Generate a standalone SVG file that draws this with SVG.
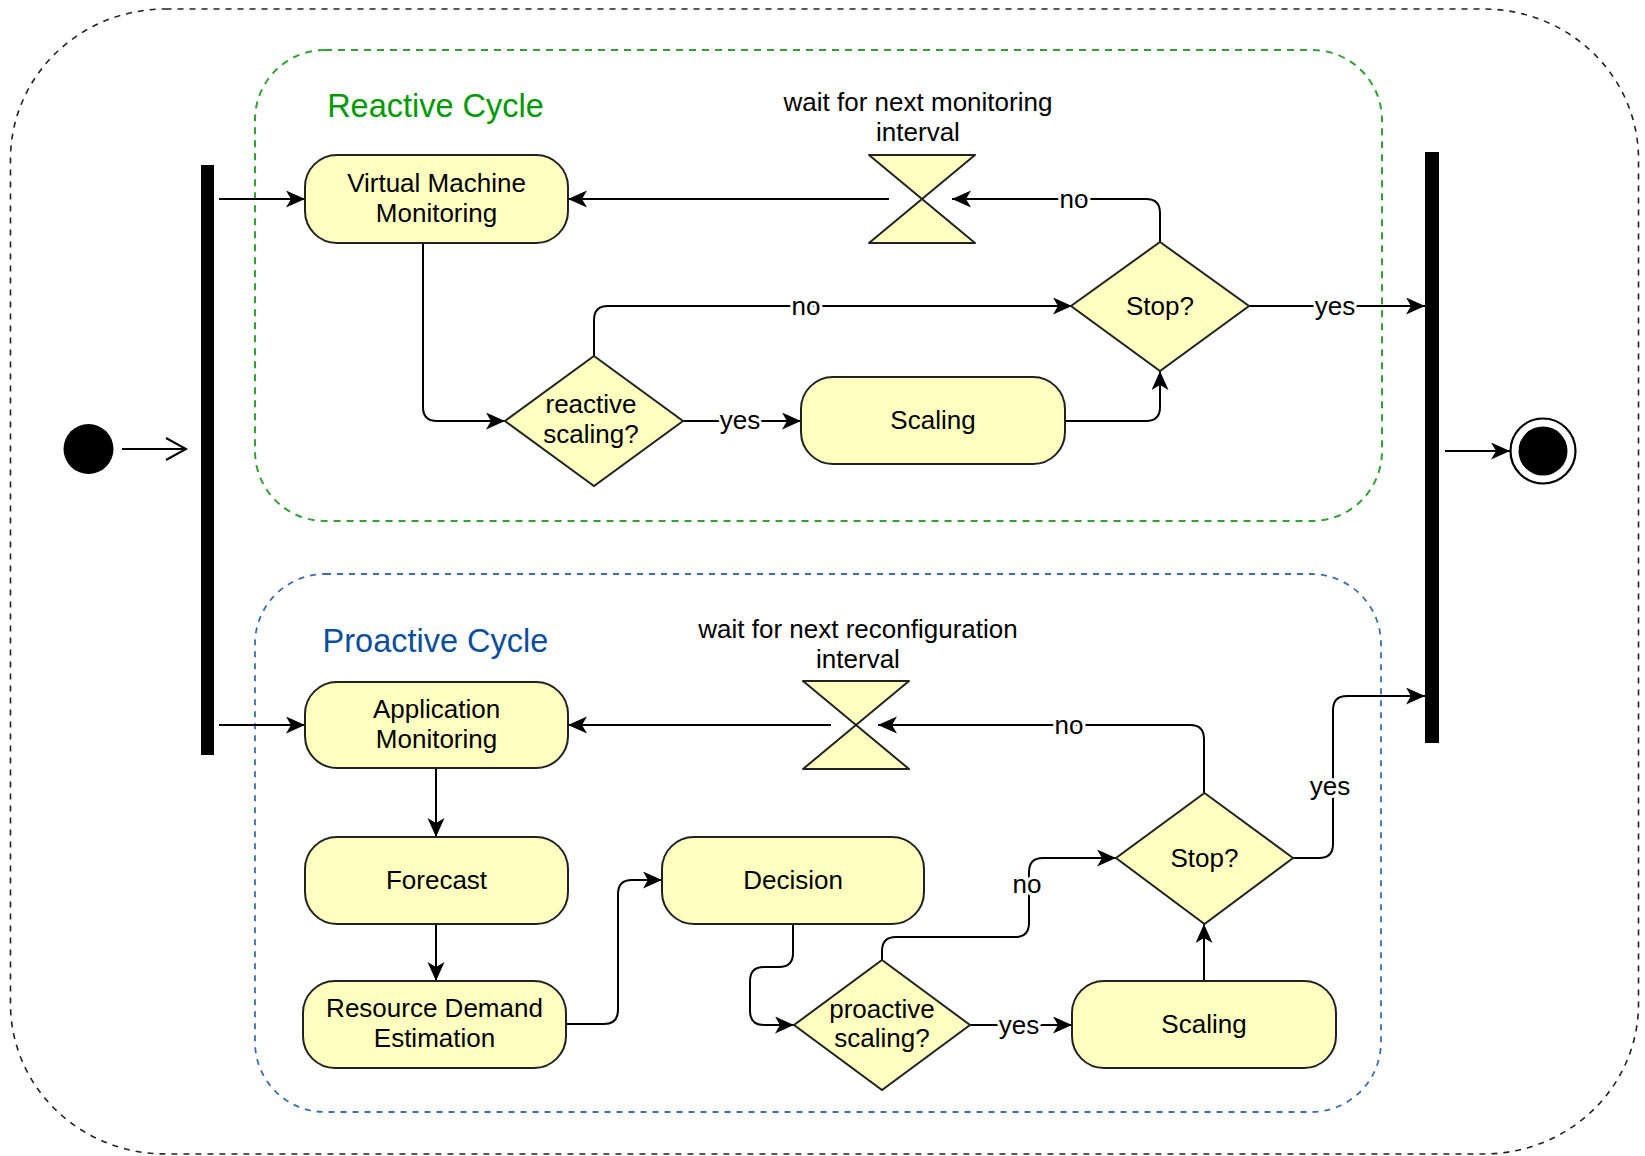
<svg xmlns="http://www.w3.org/2000/svg" width="1645" height="1156" viewBox="0 0 1645 1156">
  <defs>
    <marker id="arr" markerUnits="userSpaceOnUse" markerWidth="21" markerHeight="18" refX="19" refY="8.5" orient="auto">
      <path d="M0,0 L19,8.5 L0,17 L5,8.5 Z" fill="#000"/>
    </marker>
    <style>
      .frame { fill: none; stroke: #222; stroke-width: 1.6; stroke-dasharray: 6 6; }
      .green { fill: none; stroke: #33a033; stroke-width: 2; stroke-dasharray: 7 6; }
      .blue { fill: none; stroke: #3a6db5; stroke-width: 1.8; stroke-dasharray: 6 6; }
      .node { fill: #ffffc0; stroke: #222; stroke-width: 2; }
      .bar { fill: #000; }
      .t { font-family: "Liberation Sans", Arial, Helvetica, sans-serif; font-size: 26px; fill: #000; text-anchor: middle; }
      .title { font-family: "Liberation Sans", Arial, Helvetica, sans-serif; font-size: 32.5px; text-anchor: middle; }
      .lbl { font-family: "Liberation Sans", Arial, Helvetica, sans-serif; font-size: 26px; fill: #000; text-anchor: middle; stroke: #fff; stroke-width: 6; paint-order: stroke; stroke-linejoin: round; }
      .ca { fill: none; stroke: #000; stroke-width: 2; marker-end: url(#arr); }
    </style>
  </defs>
  <rect width="1645" height="1156" fill="#fff"/>

  <g id="frame">
    <rect class="frame" x="10.5" y="9" width="1628" height="1145" rx="155" ry="150"/>
  </g>
  <g id="reactive-cycle">
    <rect class="green" x="255" y="50" width="1127" height="471" rx="70" ry="70"/>
    <text class="title" x="435.5" y="117" fill="#009900">Reactive Cycle</text>
  </g>
  <g id="proactive-cycle">
    <rect class="blue" x="255" y="574" width="1126" height="538" rx="70" ry="70"/>
    <text class="title" x="435.5" y="652" fill="#0a4e9c">Proactive Cycle</text>
  </g>

  <g id="connectors">
    <path d="M122,449 H186 M166,438 L186,449 L166,460" fill="none" stroke="#000" stroke-width="2"/>
    <path class="ca" d="M219,199 H305"/>
    <path class="ca" d="M889,199 H568"/>
    <path class="ca" d="M1160,242 V213 Q1160,199 1146,199 H952"/>
    <path class="ca" d="M423,243 V407 Q423,421 437,421 H505"/>
    <path class="ca" d="M594,356 V320 Q594,306 608,306 H1072"/>
    <path class="ca" d="M683,421 H801"/>
    <path class="ca" d="M1065,421 H1146 Q1160,421 1160,407 V371"/>
    <path class="ca" d="M1249,306 H1425"/>
    <path class="ca" d="M1445,451 H1510"/>

    <path class="ca" d="M219,725 H305"/>
    <path class="ca" d="M831,725 H568"/>
    <path class="ca" d="M1204,793 V739 Q1204,725 1190,725 H878"/>
    <path class="ca" d="M436,768 V837"/>
    <path class="ca" d="M436,924 V981"/>
    <path class="ca" d="M566,1024 H604 Q618,1024 618,1010 V894 Q618,880 632,880 H662"/>
    <path class="ca" d="M793,924 V953 Q793,967 779,967 H764 Q750,967 750,981 V1011 Q750,1025 764,1025 H794"/>
    <path class="ca" d="M970,1025 H1072"/>
    <path class="ca" d="M1204,981 V924"/>
    <path class="ca" d="M882,960 V951 Q882,937 896,937 H1015 Q1029,937 1029,923 V872 Q1029,858 1043,858 H1116"/>
    <path class="ca" d="M1293,858 H1319 Q1333,858 1333,844 V710 Q1333,696 1347,696 H1425"/>

    <text class="lbl" x="1074" y="208">no</text>
    <text class="lbl" x="806" y="315">no</text>
    <text class="lbl" x="740" y="429">yes</text>
    <text class="lbl" x="1335" y="315">yes</text>
    <text class="lbl" x="1069" y="734">no</text>
    <text class="lbl" x="1330" y="795">yes</text>
    <text class="lbl" x="1027" y="893">no</text>
    <text class="lbl" x="1019" y="1034">yes</text>
  </g>

  <g id="initial">
    <circle cx="88.5" cy="449" r="25" fill="#000"/>
  </g>
  <g id="fork">
    <rect class="bar" x="201" y="165" width="13" height="590"/>
  </g>
  <g id="join">
    <rect class="bar" x="1425" y="152" width="14" height="591"/>
  </g>
  <g id="final">
    <circle cx="1543" cy="451" r="32.5" fill="#fff" stroke="#000" stroke-width="2.2"/>
    <circle cx="1543" cy="451" r="24.5" fill="#000"/>
  </g>

  <g id="vm-monitoring">
    <rect class="node" x="305" y="155" width="263" height="88" rx="32" ry="32"/>
    <text class="t" x="436.5" y="192">Virtual Machine</text>
    <text class="t" x="436.5" y="222">Monitoring</text>
  </g>
  <g id="wait-monitoring">
    <path class="node" d="M869,155 H975 L922,199 L975,243 H869 L922,199 Z" stroke-linejoin="round"/>
    <text class="t" x="918" y="111">wait for next monitoring</text>
    <text class="t" x="918" y="141">interval</text>
  </g>
  <g id="stop-reactive">
    <polygon class="node" points="1160,242 1249,306 1160,371 1071,306"/>
    <text class="t" x="1160" y="315">Stop?</text>
  </g>
  <g id="reactive-scaling-decision">
    <polygon class="node" points="594,356 683,421 594,486 505,421"/>
    <text class="t" x="591" y="413">reactive</text>
    <text class="t" x="591" y="443">scaling?</text>
  </g>
  <g id="scaling-reactive">
    <rect class="node" x="801" y="377" width="264" height="87" rx="32" ry="32"/>
    <text class="t" x="933" y="429">Scaling</text>
  </g>

  <g id="app-monitoring">
    <rect class="node" x="305" y="682" width="263" height="86" rx="32" ry="32"/>
    <text class="t" x="436.5" y="718">Application</text>
    <text class="t" x="436.5" y="748">Monitoring</text>
  </g>
  <g id="wait-reconfiguration">
    <path class="node" d="M803,681 H909 L856,725 L909,769 H803 L856,725 Z" stroke-linejoin="round"/>
    <text class="t" x="858" y="638">wait for next reconfiguration</text>
    <text class="t" x="858" y="668">interval</text>
  </g>
  <g id="stop-proactive">
    <polygon class="node" points="1204.5,793 1293,858 1204.5,924 1116,858"/>
    <text class="t" x="1204.5" y="867">Stop?</text>
  </g>
  <g id="forecast">
    <rect class="node" x="305" y="837" width="263" height="87" rx="32" ry="32"/>
    <text class="t" x="436.5" y="889">Forecast</text>
  </g>
  <g id="resource-demand-estimation">
    <rect class="node" x="303" y="981" width="263" height="87" rx="32" ry="32"/>
    <text class="t" x="434.5" y="1017">Resource Demand</text>
    <text class="t" x="434.5" y="1047">Estimation</text>
  </g>
  <g id="decision">
    <rect class="node" x="662" y="837" width="262" height="87" rx="32" ry="32"/>
    <text class="t" x="793" y="889">Decision</text>
  </g>
  <g id="proactive-scaling-decision">
    <polygon class="node" points="882,960 970,1025 882,1090 794,1025"/>
    <text class="t" x="882" y="1018">proactive</text>
    <text class="t" x="882" y="1047">scaling?</text>
  </g>
  <g id="scaling-proactive">
    <rect class="node" x="1072" y="981" width="264" height="87" rx="32" ry="32"/>
    <text class="t" x="1204" y="1033">Scaling</text>
  </g>
</svg>
